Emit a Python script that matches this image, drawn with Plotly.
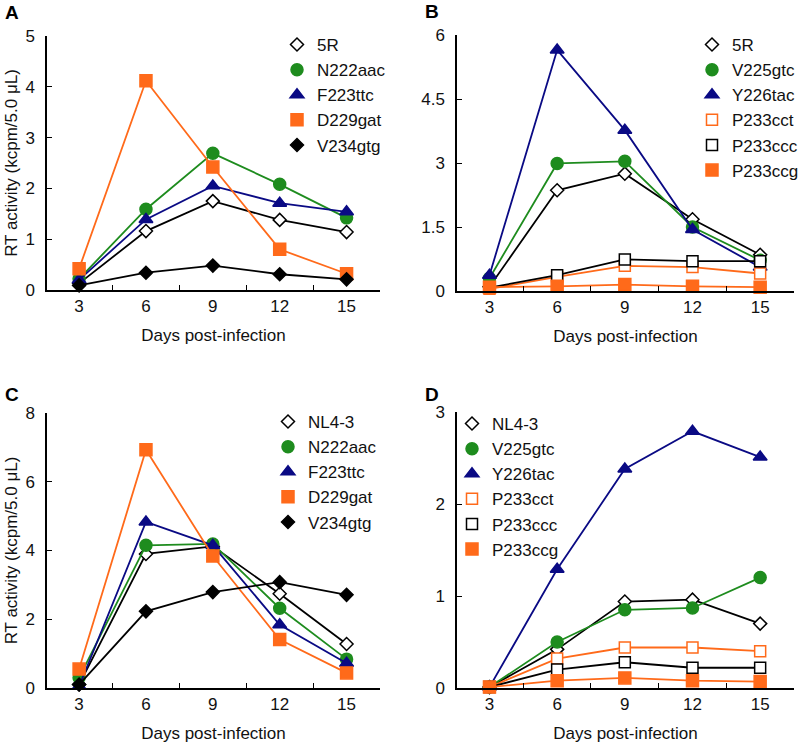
import plotly.graph_objects as go

# ---------------- data ----------------
days = ["3", "6", "9", "12", "15"]
y_ticks_a = [0, 1, 2, 3, 4, 5]
y_ticks_b = [0, 1.5, 3, 4.5, 6]
y_ticks_c = [0, 2, 4, 6, 8]
y_ticks_d = [0, 1, 2, 3]

a_names = ["5R", "N222aac", "F223ttc", "D229gat", "V234gtg"]
a_5R = [0.13, 1.16, 1.75, 1.38, 1.14]
a_N222aac = [0.22, 1.59, 2.69, 2.08, 1.42]
a_F223ttc = [0.20, 1.39, 2.05, 1.71, 1.54]
a_D229gat = [0.42, 4.12, 2.42, 0.80, 0.32]
a_V234gtg = [0.09, 0.34, 0.48, 0.31, 0.21]

b_names = ["5R", "V225gtc", "Y226tac", "P233cct", "P233ccc", "P233ccg"]
b_5R = [0.10, 2.36, 2.75, 1.68, 0.85]
b_V225gtc = [0.30, 2.99, 3.04, 1.50, 0.72]
b_Y226tac = [0.37, 5.65, 3.77, 1.44, 0.56]
b_P233cct = [0.05, 0.33, 0.59, 0.56, 0.41]
b_P233ccc = [0.08, 0.37, 0.74, 0.70, 0.70]
b_P233ccg = [0.09, 0.11, 0.15, 0.11, 0.09]

c_names = ["NL4-3", "N222aac", "F223ttc", "D229gat", "V234gtg"]
c_NL43 = [0.10, 3.90, 4.12, 2.74, 1.28]
c_N222aac = [0.30, 4.15, 4.19, 2.32, 0.84]
c_F223ttc = [0.05, 4.83, 4.15, 1.84, 0.72]
c_D229gat = [0.55, 6.93, 3.84, 1.41, 0.44]
c_V234gtg = [0.10, 2.23, 2.79, 3.08, 2.71]

d_names = ["NL4-3", "V225gtc", "Y226tac", "P233cct", "P233ccc", "P233ccg"]
d_NL43 = [0.01, 0.42, 0.94, 0.96, 0.70]
d_V225gtc = [0.01, 0.50, 0.85, 0.87, 1.20]
d_Y226tac = [0.01, 1.29, 2.38, 2.79, 2.51]
d_P233cct = [0.01, 0.32, 0.44, 0.44, 0.40]
d_P233ccc = [0.01, 0.20, 0.28, 0.22, 0.22]
d_P233ccg = [0.01, 0.08, 0.11, 0.08, 0.07]

# ---------------- styles ----------------
GREEN = "#1E8C1E"
NAVY = "#0A0A84"
ORANGE = "#FF6A1A"
BLACK = "#000000"
WHITE = "#FFFFFF"

STY = {
    "open_diamond": dict(symbol="diamond", size=10, color=WHITE, lc=BLACK, line=BLACK),
    "circle": dict(symbol="circle", size=12, color=GREEN, lc=GREEN, line=GREEN),
    "triangle": dict(symbol="triangle-up", size=12, color=NAVY, lc=NAVY, line=NAVY),
    "orange_sq": dict(symbol="square", size=12, color=ORANGE, lc=ORANGE, line=ORANGE),
    "black_diamond": dict(symbol="diamond", size=10, color=BLACK, lc=BLACK, line=BLACK),
    "open_orange_sq": dict(symbol="square", size=11, color=WHITE, lc=ORANGE, line=ORANGE),
    "open_black_sq": dict(symbol="square", size=11, color=WHITE, lc=BLACK, line=BLACK),
}

panels = [
    dict(ax="", leg="legend", names=a_names,
         vals=[a_5R, a_N222aac, a_F223ttc, a_D229gat, a_V234gtg],
         sty=["open_diamond", "circle", "triangle", "orange_sq", "black_diamond"]),
    dict(ax="2", leg="legend2", names=b_names,
         vals=[b_5R, b_V225gtc, b_Y226tac, b_P233cct, b_P233ccc, b_P233ccg],
         sty=["open_diamond", "circle", "triangle", "open_orange_sq", "open_black_sq", "orange_sq"]),
    dict(ax="3", leg="legend3", names=c_names,
         vals=[c_NL43, c_N222aac, c_F223ttc, c_D229gat, c_V234gtg],
         sty=["open_diamond", "circle", "triangle", "orange_sq", "black_diamond"]),
    dict(ax="4", leg="legend4", names=d_names,
         vals=[d_NL43, d_V225gtc, d_Y226tac, d_P233cct, d_P233ccc, d_P233ccg],
         sty=["open_diamond", "circle", "triangle", "open_orange_sq", "open_black_sq", "orange_sq"]),
]

fig = go.Figure()
for p in panels:
    xa = "x" + p["ax"]
    ya = "y" + p["ax"]
    for name, v, sk in zip(p["names"], p["vals"], p["sty"]):
        s = STY[sk]
        mk = dict(symbol=s["symbol"], size=s["size"], color=s["color"],
                  line=dict(color=s["lc"], width=1.5))
        fig.add_trace(go.Scatter(
            x=days, y=v, mode="lines+markers", name=name, showlegend=False,
            line=dict(color=s["line"], width=1.8), marker=mk,
            xaxis=xa, yaxis=ya, cliponaxis=False))
        fig.add_trace(go.Scatter(
            x=[None], y=[None], mode="markers", name=name, showlegend=True,
            legend=p["leg"], marker=mk, xaxis=xa, yaxis=ya))

FONT = "Liberation Sans, Arial, sans-serif"
W, H = 800, 748

def px_x(a, b):
    return [a / W, b / W]

def px_y(top, bottom):
    return [(H - bottom) / H, (H - top) / H]

xdoms = {"": px_x(47, 380), "2": px_x(457, 794), "3": px_x(47, 380), "4": px_x(457, 794)}
ydoms = {"": px_y(36, 290), "2": px_y(35, 291), "3": px_y(413, 688), "4": px_y(412, 688)}
yranges = {"": [0, 5], "2": [0, 6], "3": [0, 8], "4": [0, 3]}
yticks = {"": y_ticks_a, "2": y_ticks_b, "3": y_ticks_c, "4": y_ticks_d}
ytitles = {"": "RT activity (kcpm/5.0 μL)", "2": None, "3": "RT activity (kcpm/5.0 μL)", "4": None}

layout = dict(
    width=W, height=H, paper_bgcolor="white", plot_bgcolor="white",
    margin=dict(l=0, r=0, t=0, b=0, autoexpand=False),
    font=dict(family=FONT, size=17, color="#111111"),
    showlegend=True,
)
for k in ["", "2", "3", "4"]:
    layout["xaxis" + k] = dict(
        domain=xdoms[k], anchor="y" + k, type="category",
        categoryorder="array", categoryarray=days,
        range=[-0.48, 4.5], tickson="boundaries", ticks="inside", ticklen=5,
        tickwidth=1.2, tickcolor="black", showline=True, linecolor="black",
        linewidth=1.5, showgrid=False, zeroline=False,
        tickfont=dict(size=17),
        title=dict(text="Days post-infection", font=dict(size=17), standoff=14),
    )
    ya = dict(
        domain=ydoms[k], anchor="x" + k, range=yranges[k],
        tickvals=yticks[k], ticks="inside", ticklen=5, tickwidth=1.2,
        tickcolor="black", showline=True, linecolor="black", linewidth=1.5,
        showgrid=False, zeroline=False, tickfont=dict(size=17),
        ticklabelstandoff=7,
    )
    if ytitles[k]:
        ya["title"] = dict(text=ytitles[k], font=dict(size=17), standoff=3)
    layout["yaxis" + k] = ya

leg_common = dict(bgcolor="rgba(0,0,0,0)", borderwidth=0, font=dict(size=17),
                  xanchor="left", yanchor="top", tracegroupgap=0, itemsizing="trace")
layout["legend"] = dict(leg_common, x=277 / W, y=(H - 27) / H)
layout["legend2"] = dict(leg_common, x=692 / W, y=(H - 27) / H)
layout["legend3"] = dict(leg_common, x=268 / W, y=(H - 404) / H)
layout["legend4"] = dict(leg_common, x=452 / W, y=(H - 406) / H)

letters = [("A", 3, 13), ("B", 423, 12), ("C", 3, 394), ("D", 423, 394)]
layout["annotations"] = [
    dict(text="<b>%s</b>" % t, x=xp / W, y=(H - yp) / H, xref="paper", yref="paper",
         xanchor="left", yanchor="middle", showarrow=False,
         font=dict(size=19, family=FONT, color="black"))
    for t, xp, yp in letters
]

fig.update_layout(**layout)
fig.write_html("out.html",
               config={"displayModeBar": False},
               post_script="document.body.style.margin='0';document.body.style.overflow='hidden';")
